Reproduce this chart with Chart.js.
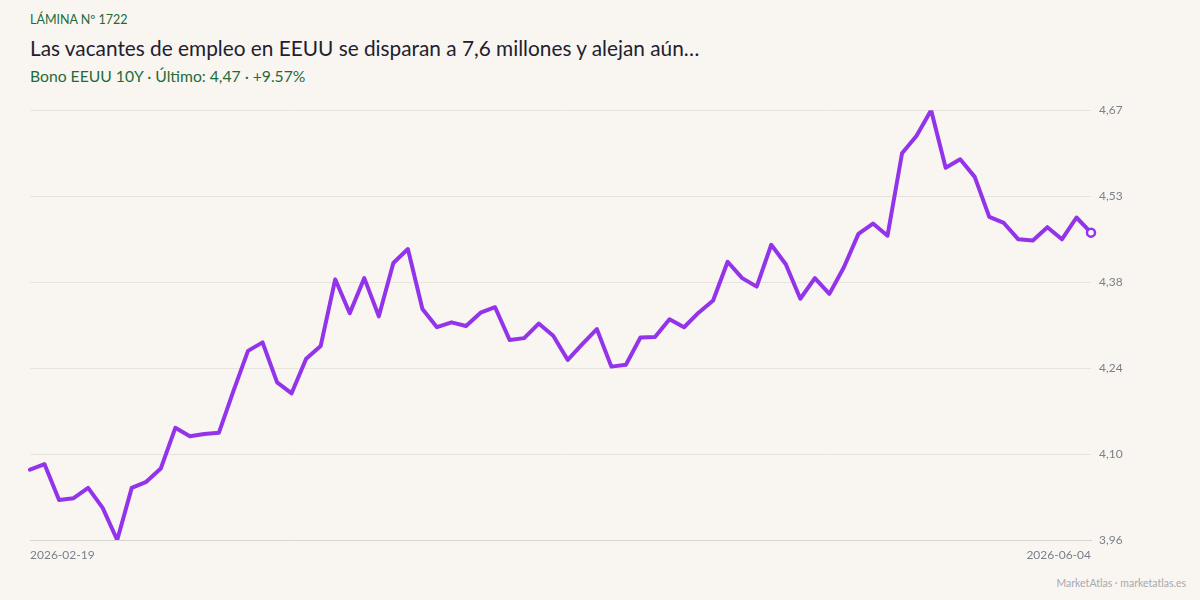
<!DOCTYPE html>
<html lang="es">
<head>
<meta charset="utf-8">
<title>Bono EEUU 10Y</title>
<script src="https://cdn.jsdelivr.net/npm/chart.js@4.4.1/dist/chart.umd.min.js"></script>
<style>
    html, body {
        margin: 0;
        padding: 0;
        width: 1200px;
        height: 600px;
        background: #f9f6f1;
        overflow: hidden;
        font-family: Lato, "Noto Sans", sans-serif;
    }
    .kicker {
        position: absolute;
        left: 30px;
        top: 12px;
        font-size: 12.5px;
        color: #1f6b3a;
    }
    .title {
        position: absolute;
        left: 30px;
        top: 35px;
        font-size: 20.8px;
        color: #1e2130;
    }
    .subtitle {
        position: absolute;
        left: 30px;
        top: 67px;
        font-size: 15.7px;
        color: #1f6b3a;
    }
    .footer {
        position: absolute;
        right: 14px;
        top: 577px;
        font-size: 10.5px;
        color: #a8a8ad;
    }
    /* the x tick padding and y label half-height inset the plot area,
       so the box is pulled out by that much */
    .chart-box {
        position: absolute;
        left: 22px;
        top: 95px;
        width: 1148px;
        height: 475px;
    }
</style>
</head>
<body>
<div class="kicker">LÁMINA Nº 1722</div>
<div class="title">Las vacantes de empleo en EEUU se disparan a 7,6 millones y alejan aún…</div>
<div class="subtitle">Bono EEUU 10Y · Último: 4,47 · +9.57%</div>
<div class="chart-box"><canvas id="yieldChart"></canvas></div>
<div class="footer">MarketAtlas · marketatlas.es</div>

<script>
// Data
const dates = [
    '2026-02-19', '2026-02-20', '2026-02-23', '2026-02-24', '2026-02-25', '2026-02-26', '2026-02-27',
    '2026-03-02', '2026-03-03', '2026-03-04', '2026-03-05', '2026-03-06', '2026-03-09', '2026-03-10',
    '2026-03-11', '2026-03-12', '2026-03-13', '2026-03-16', '2026-03-17', '2026-03-18', '2026-03-19',
    '2026-03-20', '2026-03-23', '2026-03-24', '2026-03-25', '2026-03-26', '2026-03-27', '2026-03-30',
    '2026-03-31', '2026-04-01', '2026-04-02', '2026-04-06', '2026-04-07', '2026-04-08', '2026-04-09',
    '2026-04-10', '2026-04-13', '2026-04-14', '2026-04-15', '2026-04-16', '2026-04-17', '2026-04-20',
    '2026-04-21', '2026-04-22', '2026-04-23', '2026-04-24', '2026-04-27', '2026-04-28', '2026-04-29',
    '2026-04-30', '2026-05-01', '2026-05-04', '2026-05-05', '2026-05-06', '2026-05-07', '2026-05-08',
    '2026-05-11', '2026-05-12', '2026-05-13', '2026-05-14', '2026-05-15', '2026-05-18', '2026-05-19',
    '2026-05-20', '2026-05-21', '2026-05-22', '2026-05-26', '2026-05-27', '2026-05-28', '2026-05-29',
    '2026-06-01', '2026-06-02', '2026-06-03', '2026-06-04'
];

const yields = [
    4.075, 4.084, 4.025, 4.028, 4.045, 4.012, 3.959, 4.045, 4.055, 4.077,
    4.144, 4.130, 4.134, 4.136, 4.205, 4.271, 4.285, 4.219, 4.201, 4.258,
    4.279, 4.389, 4.333, 4.391, 4.328, 4.416, 4.439, 4.340, 4.310, 4.318,
    4.312, 4.334, 4.343, 4.289, 4.292, 4.316, 4.296, 4.256, 4.282, 4.307,
    4.245, 4.248, 4.293, 4.294, 4.323, 4.310, 4.334, 4.354, 4.418, 4.391,
    4.377, 4.446, 4.414, 4.357, 4.391, 4.365, 4.409, 4.464, 4.481, 4.461,
    4.597, 4.626, 4.668, 4.573, 4.587, 4.558, 4.492, 4.482, 4.455, 4.453,
    4.475, 4.455, 4.491, 4.466
];

const lineColor = '#9333ea';
const yMin = Math.min(...yields);
const yMax = Math.max(...yields);
const lastIndex = yields.length - 1;

// Only the last point gets a marker
const pointRadius = yields.map((v, i) => i === lastIndex ? 4 : 0);

const ctx = document.getElementById('yieldChart').getContext('2d');
new Chart(ctx, {
    type: 'line',
    data: {
        labels: dates,
        datasets: [{
            data: yields,
            borderColor: lineColor,
            borderWidth: 4,
            tension: 0,
            borderJoinStyle: 'round',
            borderCapStyle: 'round',
            pointRadius: pointRadius,
            pointBackgroundColor: '#ffffff',
            pointBorderColor: lineColor,
            pointBorderWidth: 2.5,
            pointHoverRadius: 0,
            fill: false
        }]
    },
    options: {
        responsive: true,
        maintainAspectRatio: false,
        animation: false,
        layout: {
            autoPadding: false,
            padding: 0
        },
        plugins: {
            legend: { display: false },
            tooltip: { enabled: false }
        },
        scales: {
            x: {
                offset: false,
                grid: { display: false, drawTicks: false },
                border: { display: true, color: '#d9d4cc', width: 1 },
                ticks: {
                    autoSkip: false,
                    maxRotation: 0,
                    align: 'inner',
                    padding: 8,
                    color: '#7b7f8c',
                    font: { family: 'Lato', size: 12 },
                    callback: function(value, index) {
                        if (index === 0 || index === lastIndex) {
                            return this.getLabelForValue(value);
                        }
                        return '';
                    }
                },
                afterFit: function(scale) {
                    scale.height = 30;
                }
            },
            y: {
                position: 'right',
                min: yMin,
                max: yMax,
                grid: {
                    color: '#e8e3dc',
                    lineWidth: 1,
                    drawTicks: false
                },
                border: { display: false },
                ticks: {
                    count: 6,
                    padding: 8,
                    color: '#7b7f8c',
                    font: { family: 'Lato', size: 12 },
                    callback: function(value) {
                        return value.toFixed(2).replace('.', ',');
                    }
                },
                afterFit: function(scale) {
                    scale.width = 79;
                }
            }
        }
    }
});
</script>
</body>
</html>
